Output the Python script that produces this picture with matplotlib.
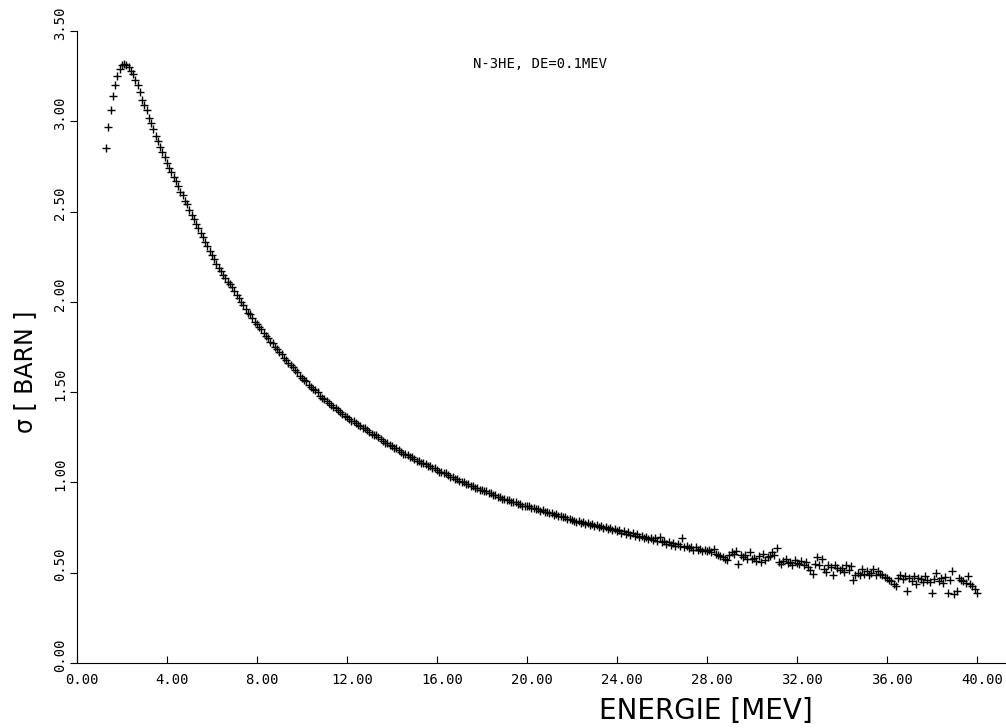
import numpy as np
import matplotlib
matplotlib.use("Agg")
import matplotlib.pyplot as plt
import matplotlib.transforms as mtransforms

# datos: sigma cada 0.1 MeV desde 1.3 MeV
E_START = 1.3
DE = 0.1
sigma = [
    2.85, 2.97, 3.06, 3.14, 3.20, 3.25, 3.29, 3.31, 3.32, 3.31, 3.30, 3.28, 3.26, 3.23, 3.20, 3.16, 3.12, 3.09,
    3.06, 3.02, 2.99, 2.96, 2.92, 2.89, 2.86, 2.83, 2.80, 2.77,
    2.74, 2.72, 2.69, 2.67, 2.64, 2.61, 2.59, 2.56, 2.54, 2.51,
    2.48, 2.46, 2.43, 2.41, 2.38, 2.36, 2.33, 2.31, 2.28, 2.26,
    2.24, 2.21, 2.19, 2.17, 2.15, 2.13, 2.11, 2.10, 2.08, 2.06,
    2.04, 2.02, 2.00, 1.98, 1.96, 1.94, 1.93, 1.91, 1.89, 1.88,
    1.86, 1.85, 1.83, 1.81, 1.80, 1.78, 1.77, 1.75, 1.74, 1.72,
    1.71, 1.69, 1.68, 1.66, 1.65, 1.64, 1.62, 1.61, 1.59, 1.58,
    1.57, 1.56, 1.54, 1.53, 1.52, 1.51, 1.50, 1.48, 1.47, 1.46,
    1.45, 1.44, 1.43, 1.42, 1.41, 1.40, 1.39, 1.38, 1.37, 1.36,
    1.35, 1.34, 1.34, 1.33, 1.32, 1.31, 1.30, 1.30, 1.29, 1.28,
    1.27, 1.26, 1.26, 1.25, 1.24, 1.23, 1.22, 1.22, 1.21, 1.20,
    1.19, 1.19, 1.18, 1.17, 1.16, 1.16, 1.15, 1.14, 1.14, 1.13,
    1.12, 1.12, 1.11, 1.11, 1.10, 1.09, 1.09, 1.08, 1.08, 1.07,
    1.06, 1.06, 1.05, 1.05, 1.04, 1.03, 1.03, 1.02, 1.02, 1.01,
    1.00, 1.00, 0.99, 0.99, 0.98, 0.98, 0.97, 0.97, 0.96, 0.96,
    0.95, 0.95, 0.94, 0.94, 0.93, 0.93, 0.92, 0.92, 0.91, 0.91,
    0.90, 0.90, 0.89, 0.89, 0.89, 0.88, 0.88, 0.87, 0.87, 0.87,
    0.868, 0.860, 0.861, 0.851, 0.853, 0.843, 0.845, 0.836, 0.838, 0.829,
    0.828, 0.819, 0.824, 0.813, 0.816, 0.806, 0.809, 0.800, 0.797, 0.791,
    0.789, 0.783, 0.786, 0.777, 0.779, 0.770, 0.774, 0.765, 0.768, 0.760,
    0.762, 0.752, 0.758, 0.747, 0.751, 0.741, 0.746, 0.737, 0.740, 0.730,
    0.735, 0.722, 0.729, 0.716, 0.724, 0.711, 0.718, 0.705, 0.713, 0.700,
    0.706, 0.690, 0.700, 0.684, 0.695, 0.680, 0.690, 0.674, 0.700, 0.670,
    0.676, 0.660, 0.668, 0.655, 0.664, 0.650, 0.660, 0.646, 0.690, 0.645,
    0.650, 0.636, 0.642, 0.628, 0.645, 0.625, 0.633, 0.618, 0.628, 0.620,
    0.626, 0.612, 0.632, 0.604, 0.600, 0.590, 0.586, 0.578, 0.570, 0.598,
    0.612, 0.605, 0.618, 0.550, 0.600, 0.585, 0.596, 0.578, 0.612, 0.575,
    0.580, 0.566, 0.592, 0.560, 0.605, 0.572, 0.585, 0.595, 0.612, 0.600,
    0.635, 0.560, 0.548, 0.566, 0.575, 0.552, 0.560, 0.545, 0.570, 0.555,
    0.548, 0.565, 0.542, 0.560, 0.530, 0.515, 0.495, 0.550, 0.585, 0.540,
    0.575, 0.520, 0.505, 0.545, 0.530, 0.490, 0.540, 0.528, 0.515, 0.525,
    0.505, 0.545, 0.515, 0.535, 0.460, 0.490, 0.500, 0.485, 0.520, 0.495,
    0.510, 0.490, 0.500, 0.520, 0.485, 0.510, 0.495, 0.490, 0.478, 0.470,
    0.462, 0.455, 0.440, 0.425, 0.470, 0.490, 0.465, 0.480, 0.400, 0.470,
    0.455, 0.480, 0.440, 0.470, 0.465, 0.450, 0.480, 0.460, 0.450, 0.390,
    0.465, 0.500, 0.455, 0.470, 0.445, 0.475, 0.390, 0.460, 0.510, 0.380,
    0.400, 0.470, 0.460, 0.455, 0.445, 0.480, 0.440, 0.425, 0.410, 0.390,
]
energia = np.round(E_START + DE * np.arange(len(sigma)), 1)

xticks = [0, 4, 8, 12, 16, 20, 24, 28, 32, 36, 40]
yticks = [0, 0.5, 1.0, 1.5, 2.0, 2.5, 3.0, 3.5]

fig = plt.figure(figsize=(10.06, 7.28), dpi=100)
ax = fig.add_axes([77 / 1006, 65 / 728, 929 / 1006, 632 / 728])

ax.plot(energia, sigma, linestyle="none", marker="+", color="black",
        markersize=6, markeredgewidth=1.0)

ax.set_xlim(0, 41.29)
ax.set_ylim(0, 3.5)
ax.spines["top"].set_visible(False)
ax.spines["right"].set_visible(False)
ax.spines["left"].set_bounds(0, 3.5)

ax.set_xticks(xticks)
ax.set_xticklabels(["%.2f" % v for v in xticks], family="DejaVu Sans Mono", fontsize=10)
ax.set_yticks(yticks)
ax.set_yticklabels(["%.2f" % v for v in yticks], family="DejaVu Sans Mono", fontsize=10,
                   rotation=90, va="center")
ax.tick_params(axis="x", direction="in", length=5, pad=7)
ax.tick_params(axis="y", direction="out", length=5, pad=2)

# etiquetas un poco desplazadas como en el original
off_y = mtransforms.ScaledTranslation(0, 8 / 100, fig.dpi_scale_trans)
for lab in ax.get_yticklabels():
    lab.set_transform(lab.get_transform() + off_y)
off_x = mtransforms.ScaledTranslation(5 / 100, 0, fig.dpi_scale_trans)
for lab in ax.get_xticklabels():
    lab.set_transform(lab.get_transform() + off_x)

ax.set_xlabel("ENERGIE [MEV]", fontsize=20)
ax.xaxis.set_label_coords((706 - 77) / 929, -34 / 632)
ax.set_ylabel("σ [ BARN ]", fontsize=17)
ax.yaxis.set_label_coords(-40 / 929, (663 - 372) / 632)

ax.text(17.6, 3.32, "N-3HE, DE=0.1MEV", family="DejaVu Sans Mono", fontsize=10,
        ha="left", va="center")

fig.savefig("out.png", dpi=100)
